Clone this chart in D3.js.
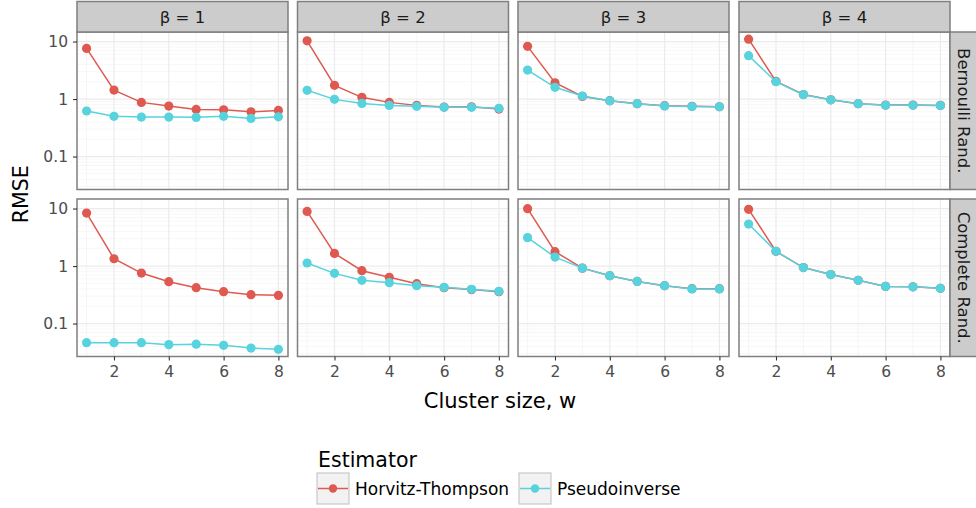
<!DOCTYPE html>
<html>
<head>
<meta charset="utf-8">
<script src="https://cdn.jsdelivr.net/npm/d3@7"></script>
<style>
  body { margin: 0; background: #fff; }
  text { font-family: "DejaVu Sans", sans-serif; }
</style>
</head>
<body>
<div id="chart"></div>
<script>
const width = 976;
const height = 508;

const clusterSizes = [1, 2, 3, 4, 5, 6, 7, 8];
const betas = [1, 2, 3, 4];
const designs = ["Bernoulli Rand.", "Complete Rand."];
const estimators = ["Horvitz-Thompson", "Pseudoinverse"];
const yTicks = [0.1, 1, 10];
const xTicks = [2, 4, 6, 8];

// RMSE, one row per beta
const htBernoulli = [
  [7.6, 1.43, 0.875, 0.755, 0.66, 0.65, 0.6, 0.635],
  [10.3, 1.73, 1.07, 0.875, 0.776, 0.726, 0.735, 0.67],
  [8.25, 1.92, 1.11, 0.935, 0.83, 0.766, 0.746, 0.735],
  [11.0, 2.03, 1.2, 0.97, 0.83, 0.787, 0.787, 0.776]
];
const piBernoulli = [
  [0.62, 0.5, 0.486, 0.486, 0.48, 0.5, 0.46, 0.49],
  [1.42, 0.987, 0.84, 0.776, 0.746, 0.717, 0.717, 0.69],
  [3.19, 1.6, 1.13, 0.93, 0.83, 0.76, 0.74, 0.735],
  [5.67, 2.0, 1.19, 0.97, 0.83, 0.78, 0.78, 0.77]
];
const htComplete = [
  [8.35, 1.34, 0.755, 0.535, 0.42, 0.358, 0.318, 0.309],
  [8.9, 1.66, 0.83, 0.636, 0.494, 0.42, 0.389, 0.358],
  [9.96, 1.78, 0.92, 0.68, 0.54, 0.456, 0.404, 0.404],
  [9.7, 1.8, 0.94, 0.71, 0.564, 0.443, 0.435, 0.41]
];
const piComplete = [
  [0.0465, 0.0465, 0.0465, 0.043, 0.0437, 0.0418, 0.0375, 0.0356],
  [1.13, 0.746, 0.564, 0.514, 0.456, 0.426, 0.393, 0.363],
  [3.12, 1.43, 0.92, 0.68, 0.54, 0.456, 0.4, 0.4],
  [5.37, 1.8, 0.94, 0.71, 0.564, 0.443, 0.435, 0.41]
];

const colors = { "Horvitz-Thompson": "#de5a50", "Pseudoinverse": "#56d3dd" };
const seriesByDesign = [
  [htBernoulli, piBernoulli],
  [htComplete, piComplete]
];

const colX = [77, 297.5, 518, 739];
const rowY = [32, 199];
const pw = 211;
const ph = 157.5;

const svg = d3
  .select("#chart")
  .append("svg")
  .attr("width", width)
  .attr("height", height);

const x = d3.scaleLinear().domain([0.65, 8.35]).range([0, pw]);

const allValues = [htBernoulli, piBernoulli, htComplete, piComplete].flat(2);
const lo = Math.log10(d3.min(allValues));
const hi = Math.log10(d3.max(allValues));
const pad = (hi - lo) * 0.05;
const y = d3
  .scaleLog()
  .domain([Math.pow(10, lo - pad), Math.pow(10, hi + pad)])
  .range([ph, 0]);

const minorY = [];
[0.01, 0.1, 1, 10].forEach((d) => {
  for (let k = 2; k <= 9; k++) {
    const v = d * k;
    if (v > y.domain()[0] && v < y.domain()[1]) minorY.push(v);
  }
});

const line = d3
  .line()
  .x((d) => x(d.w))
  .y((d) => y(d.v));

designs.forEach((design, r) => {
  betas.forEach((beta, c) => {
    const g = svg
      .append("g")
      .attr("transform", `translate(${colX[c]},${rowY[r]})`);

    g.append("rect")
      .attr("width", pw)
      .attr("height", ph)
      .attr("fill", "#fff");

    // minor grid
    g.selectAll(".minor-y")
      .data(minorY)
      .join("line")
      .attr("x1", 0)
      .attr("x2", pw)
      .attr("y1", (d) => y(d))
      .attr("y2", (d) => y(d))
      .attr("stroke", "#f2f2f2")
      .attr("stroke-width", 0.6);

    g.selectAll(".minor-x")
      .data([1, 3, 5, 7])
      .join("line")
      .attr("x1", (d) => x(d))
      .attr("x2", (d) => x(d))
      .attr("y1", 0)
      .attr("y2", ph)
      .attr("stroke", "#f2f2f2")
      .attr("stroke-width", 0.7);

    // major grid
    g.selectAll(".major-y")
      .data(yTicks)
      .join("line")
      .attr("x1", 0)
      .attr("x2", pw)
      .attr("y1", (d) => y(d))
      .attr("y2", (d) => y(d))
      .attr("stroke", "#ebebeb")
      .attr("stroke-width", 1.2);

    g.selectAll(".major-x")
      .data(xTicks)
      .join("line")
      .attr("x1", (d) => x(d))
      .attr("x2", (d) => x(d))
      .attr("y1", 0)
      .attr("y2", ph)
      .attr("stroke", "#ebebeb")
      .attr("stroke-width", 1.2);

    seriesByDesign[r].forEach((series, e) => {
      const pts = clusterSizes.map((w, i) => ({ w, v: series[c][i] }));
      const col = colors[estimators[e]];
      g.append("path")
        .datum(pts)
        .attr("d", line)
        .attr("fill", "none")
        .attr("stroke", col)
        .attr("stroke-width", 1.5);
      g.selectAll(".pt" + e)
        .data(pts)
        .join("circle")
        .attr("cx", (d) => x(d.w))
        .attr("cy", (d) => y(d.v))
        .attr("r", 4.6)
        .attr("fill", col);
    });

    g.append("rect")
      .attr("width", pw)
      .attr("height", ph)
      .attr("fill", "none")
      .attr("stroke", "#7f7f7f")
      .attr("stroke-width", 1.5);

    // y axis on first column
    if (c === 0) {
      const ya = g
        .append("g")
        .call(d3.axisLeft(y).tickValues(yTicks).tickFormat(d3.format("~g")).tickSize(4).tickPadding(5));
      ya.select(".domain").remove();
      ya.selectAll("line").attr("stroke", "#333").attr("stroke-width", 1.1);
      ya.selectAll("text")
        .attr("fill", "#4d4d4d")
        .style("font-size", "15.5px")
        .style("font-family", "DejaVu Sans");
    }

    // x axis on bottom row
    if (r === designs.length - 1) {
      const xa = g
        .append("g")
        .attr("transform", `translate(0,${ph})`)
        .call(d3.axisBottom(x).tickValues(xTicks).tickSize(4).tickPadding(5));
      xa.select(".domain").remove();
      xa.selectAll("line").attr("stroke", "#333").attr("stroke-width", 1.1);
      xa.selectAll("text")
        .attr("fill", "#4d4d4d")
        .style("font-size", "15.5px")
        .style("font-family", "DejaVu Sans");
    }

    // top strips
    if (r === 0) {
      svg.append("rect")
        .attr("x", colX[c])
        .attr("y", 1.5)
        .attr("width", pw)
        .attr("height", rowY[0] - 1.5)
        .attr("fill", "#cccccc")
        .attr("stroke", "#7f7f7f")
        .attr("stroke-width", 1.5);
      svg.append("text")
        .attr("x", colX[c] + pw / 2)
        .attr("y", 17)
        .attr("text-anchor", "middle")
        .attr("dominant-baseline", "central")
        .attr("fill", "#1a1a1a")
        .style("font-size", "16.5px")
        .text(`β = ${beta}`);
    }
  });

  // right strips
  const sx = colX[3] + pw;
  svg.append("rect")
    .attr("x", sx)
    .attr("y", rowY[r])
    .attr("width", width - sx + 2)
    .attr("height", ph)
    .attr("fill", "#cccccc")
    .attr("stroke", "#7f7f7f")
    .attr("stroke-width", 1.5);
  svg.append("text")
    .attr("transform", `translate(${sx + 13},${rowY[r] + ph / 2}) rotate(90)`)
    .attr("text-anchor", "middle")
    .attr("dominant-baseline", "central")
    .attr("fill", "#1a1a1a")
    .style("font-size", "16.5px")
    .text(design);
});

// axis titles
svg.append("text")
  .attr("x", 500)
  .attr("y", 408)
  .attr("text-anchor", "middle")
  .style("font-size", "21px")
  .text("Cluster size, w");

svg.append("text")
  .attr("transform", `translate(28,${(rowY[0] + rowY[1] + ph) / 2}) rotate(-90)`)
  .attr("text-anchor", "middle")
  .style("font-size", "20.5px")
  .text("RMSE");

// legend
const legend = svg.append("g").attr("transform", "translate(317,0)");
legend.append("text")
  .attr("x", 1)
  .attr("y", 467)
  .style("font-size", "20.5px")
  .text("Estimator");

const keyX = [0, 202];
estimators.forEach((name, i) => {
  const k = legend.append("g").attr("transform", `translate(${keyX[i]},473)`);
  k.append("rect")
    .attr("width", 32)
    .attr("height", 31)
    .attr("fill", "#f2f2f2")
    .attr("stroke", "#c8c8c8")
    .attr("stroke-width", 1.2);
  k.append("line")
    .attr("x1", 1)
    .attr("x2", 31)
    .attr("y1", 15.5)
    .attr("y2", 15.5)
    .attr("stroke", colors[name])
    .attr("stroke-width", 1.5);
  k.append("circle")
    .attr("cx", 16)
    .attr("cy", 15.5)
    .attr("r", 4.2)
    .attr("fill", colors[name]);
  k.append("text")
    .attr("x", 38)
    .attr("y", 15.5)
    .attr("dominant-baseline", "central")
    .style("font-size", "17px")
    .text(name);
});
</script>
</body>
</html>
